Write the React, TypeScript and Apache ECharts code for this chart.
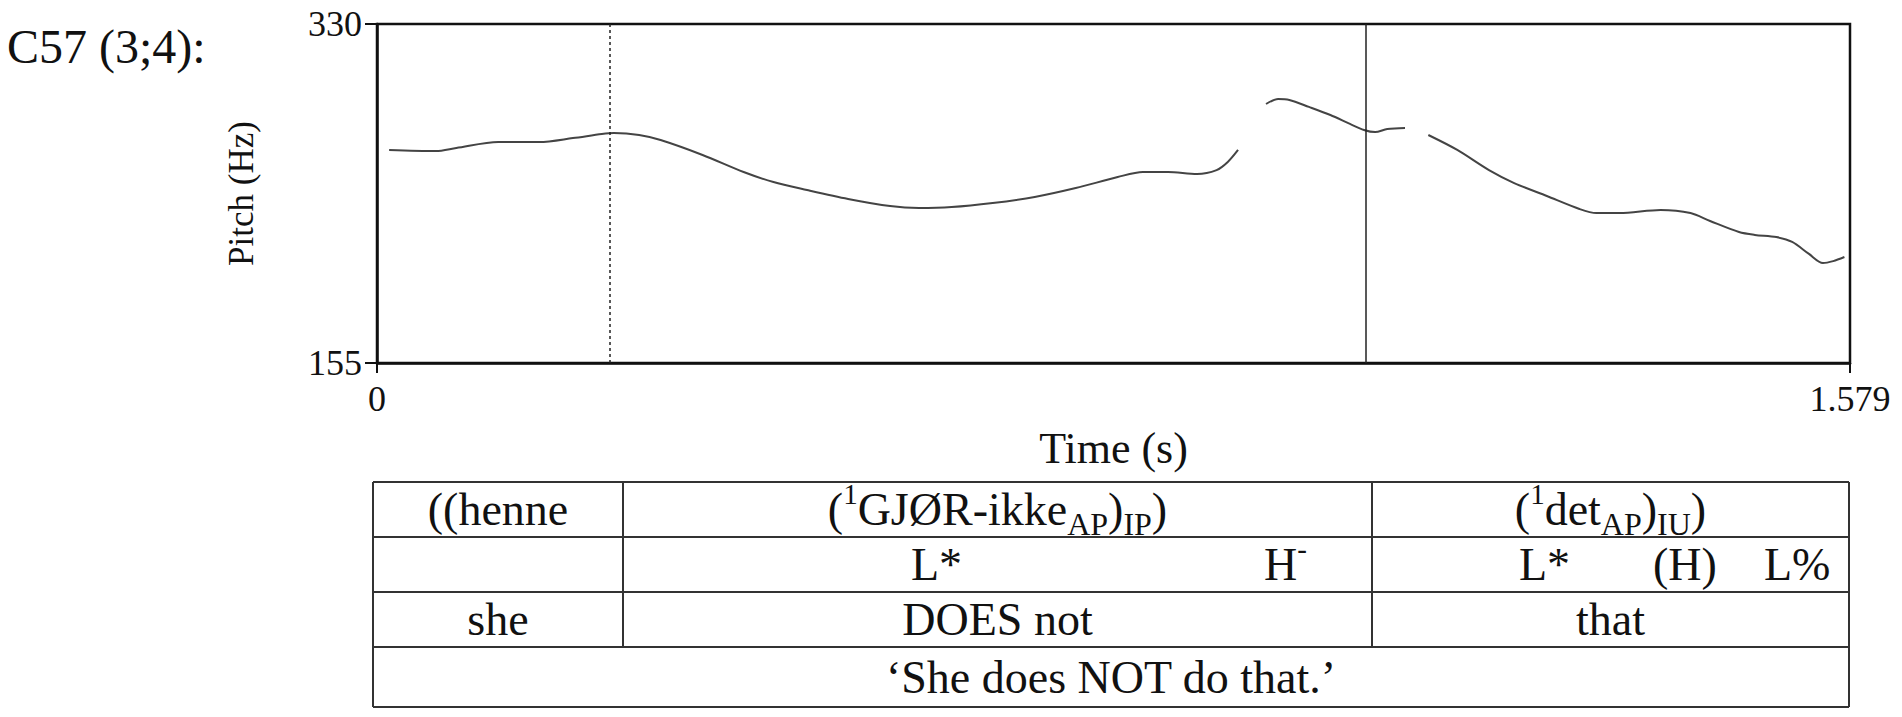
import React, { useEffect, useRef } from "react";
import * as echarts from "echarts";

const FONT = '"Liberation Serif", "Times New Roman", serif';

// ---- axes ----
const timeTicks = [0, 1.579];
const pitchTicks = [155, 330];

// ---- pitch contour (three voiced stretches) ----
const seg1Time = [0.013, 0.063, 0.085, 0.130, 0.174, 0.210, 0.241, 0.254, 0.281, 0.304, 0.349, 0.393, 0.425, 0.461, 0.505, 0.550, 0.581, 0.616, 0.660, 0.705, 0.749, 0.794, 0.821, 0.848, 0.879, 0.900, 0.912, 0.923];
const seg1Pitch = [265.0, 264.4, 266.0, 269.1, 269.1, 271.1, 273.2, 273.7, 272.7, 270.1, 262.4, 253.6, 248.4, 244.3, 239.7, 236.0, 235.0, 235.5, 237.6, 240.7, 245.3, 251.0, 253.6, 253.6, 252.6, 254.6, 258.8, 265.0];

const seg2Time = [0.953, 0.966, 0.978, 0.999, 1.022, 1.043, 1.058, 1.070, 1.083, 1.102];
const seg2Pitch = [288.7, 291.3, 290.8, 287.2, 283.0, 278.4, 275.3, 274.2, 275.8, 276.3];

const seg3Time = [1.127, 1.158, 1.192, 1.219, 1.254, 1.289, 1.307, 1.332, 1.376, 1.408, 1.429, 1.460, 1.477, 1.500, 1.517, 1.535, 1.550, 1.561, 1.573];
const seg3Pitch = [272.7, 265.0, 254.6, 247.9, 241.2, 234.5, 232.4, 232.4, 234.0, 232.4, 228.3, 222.6, 221.1, 220.0, 217.5, 211.3, 206.6, 207.6, 209.7];

// ---- boundaries ----
const boundaryTimes = [0.252, 1.065];
const boundaryKinds = ["dashed", "solid"];

// ---- texts ----
const exampleLabel = "C57 (3;4):";
const xName = "Time (s)";
const yName = "Pitch (Hz)";
const row1Texts = [
  "{m|((henne}",
  "{m|(}{sup|1}{m|GJØR-ikke}{sub|AP}{m|)}{sub|IP}{m|)}",
  "{m|(}{sup|1}{m|det}{sub|AP}{m|)}{sub|IU}{m|)}",
];
const row2Texts = ["{m|L*}", "{m|H}{sup|-}", "{m|L*}", "{m|(H)}", "{m|L%}"];
const row3Texts = ["{m|she}", "{m|DOES not}", "{m|that}"];
const row4Text = "{m|‘She does NOT do that.’}";

// ---- layout ----
const GRID = { left: 377, top: 24, right: 52, bottom: 354 };
const TABLE = { left: 373, right: 1849, rows: [482, 537, 592, 647, 707], cols: [623, 1372] };
const row2X = [911, 1264, 1519, 1653, 1764];

const zip = (a: number[], b: number[]) => a.map((v, i) => [v, b[i]]);

const rich = {
  m: { font: `46px ${FONT}`, fill: "#111", lineHeight: 60, verticalAlign: "middle" },
  sub: { font: `32px ${FONT}`, fill: "#111", lineHeight: 26, verticalAlign: "bottom" },
  sup: { font: `29px ${FONT}`, fill: "#111", lineHeight: 42, verticalAlign: "top" },
};

function txt(x: number, y: number, text: string, align: string) {
  return {
    type: "text",
    x,
    y,
    silent: true,
    style: {
      text,
      rich,
      font: `46px ${FONT}`,
      fill: "#111",
      align,
      textAlign: align,
      verticalAlign: "middle",
      textVerticalAlign: "middle",
    },
  };
}

function line(x1: number, y1: number, x2: number, y2: number) {
  return {
    type: "line",
    silent: true,
    shape: { x1, y1, x2, y2 },
    style: { stroke: "#333", lineWidth: 2 },
  };
}

function buildGraphic() {
  const g: any[] = [];
  const { left, right, rows, cols } = TABLE;
  rows.forEach((y) => g.push(line(left, y, right, y)));
  g.push(line(left, rows[0], left, rows[4]));
  g.push(line(right, rows[0], right, rows[4]));
  cols.forEach((x) => g.push(line(x, rows[0], x, rows[3])));
  const edges = [left, ...cols, right];
  const centers = [0, 1, 2].map((i) => (edges[i] + edges[i + 1]) / 2);
  const rowMid = (r: number) => (rows[r] + rows[r + 1]) / 2;
  row1Texts.forEach((t, i) => g.push(txt(centers[i], rowMid(0), t, "center")));
  row2Texts.forEach((t, i) => g.push(txt(row2X[i], rowMid(1), t, "left")));
  row3Texts.forEach((t, i) => g.push(txt(centers[i], rowMid(2), t, "center")));
  g.push(txt((left + right) / 2, rowMid(3), row4Text, "center"));
  g.push({
    type: "text",
    x: 7,
    y: 46,
    silent: true,
    style: {
      text: exampleLabel,
      font: `48px ${FONT}`,
      fill: "#111",
      align: "left",
      textAlign: "left",
      verticalAlign: "middle",
      textVerticalAlign: "middle",
    },
  });
  return g;
}

const lineSeries = (data: number[][], withMarks: boolean) => ({
  type: "line",
  data,
  smooth: 0.3,
  showSymbol: false,
  symbol: "none",
  lineStyle: { color: "#444", width: 2 },
  silent: true,
  ...(withMarks
    ? {
        markLine: {
          silent: true,
          symbol: "none",
          label: { show: false },
          data: boundaryTimes.map((t, i) => ({
            xAxis: t,
            lineStyle: {
              color: "#222",
              width: 1.5,
              type: boundaryKinds[i] === "dashed" ? [3, 3] : "solid",
            },
          })),
        },
      }
    : {}),
});

export default function App() {
  const ref = useRef<HTMLDivElement>(null);
  useEffect(() => {
    document.body.style.margin = "0";
    const chart = echarts.init(ref.current!, null, { renderer: "svg" });
    chart.setOption({
      animation: false,
      backgroundColor: "#fff",
      grid: { ...GRID, show: true, borderColor: "#111", borderWidth: 2.5, backgroundColor: "transparent" },
      xAxis: {
        type: "value",
        min: timeTicks[0],
        max: timeTicks[1],
        interval: timeTicks[1] - timeTicks[0],
        name: xName,
        nameLocation: "middle",
        nameGap: 63,
        nameTextStyle: { fontFamily: FONT, fontSize: 44, color: "#111" },
        axisLine: { lineStyle: { color: "#111", width: 2.5 } },
        axisTick: { show: true, length: 10, lineStyle: { color: "#111", width: 2 } },
        axisLabel: {
          fontFamily: FONT,
          fontSize: 36,
          color: "#111",
          margin: 18,
          formatter: (v: number) => (v === 0 ? "0" : String(v)),
        },
        splitLine: { show: false },
      },
      yAxis: {
        type: "value",
        min: pitchTicks[0],
        max: pitchTicks[1],
        interval: pitchTicks[1] - pitchTicks[0],
        name: yName,
        nameLocation: "middle",
        nameRotate: 90,
        nameGap: 118,
        nameTextStyle: { fontFamily: FONT, fontSize: 35, color: "#111" },
        axisLine: { show: true, lineStyle: { color: "#111", width: 2.5 } },
        axisTick: { show: true, length: 12, lineStyle: { color: "#111", width: 2 } },
        axisLabel: { fontFamily: FONT, fontSize: 36, color: "#111", margin: 15 },
        splitLine: { show: false },
      },
      series: [
        lineSeries(zip(seg1Time, seg1Pitch), true),
        lineSeries(zip(seg2Time, seg2Pitch), false),
        lineSeries(zip(seg3Time, seg3Pitch), false),
      ],
      graphic: buildGraphic(),
    });
    return () => chart.dispose();
  }, []);
  return <div ref={ref} style={{ width: 1902, height: 717 }} />;
}
